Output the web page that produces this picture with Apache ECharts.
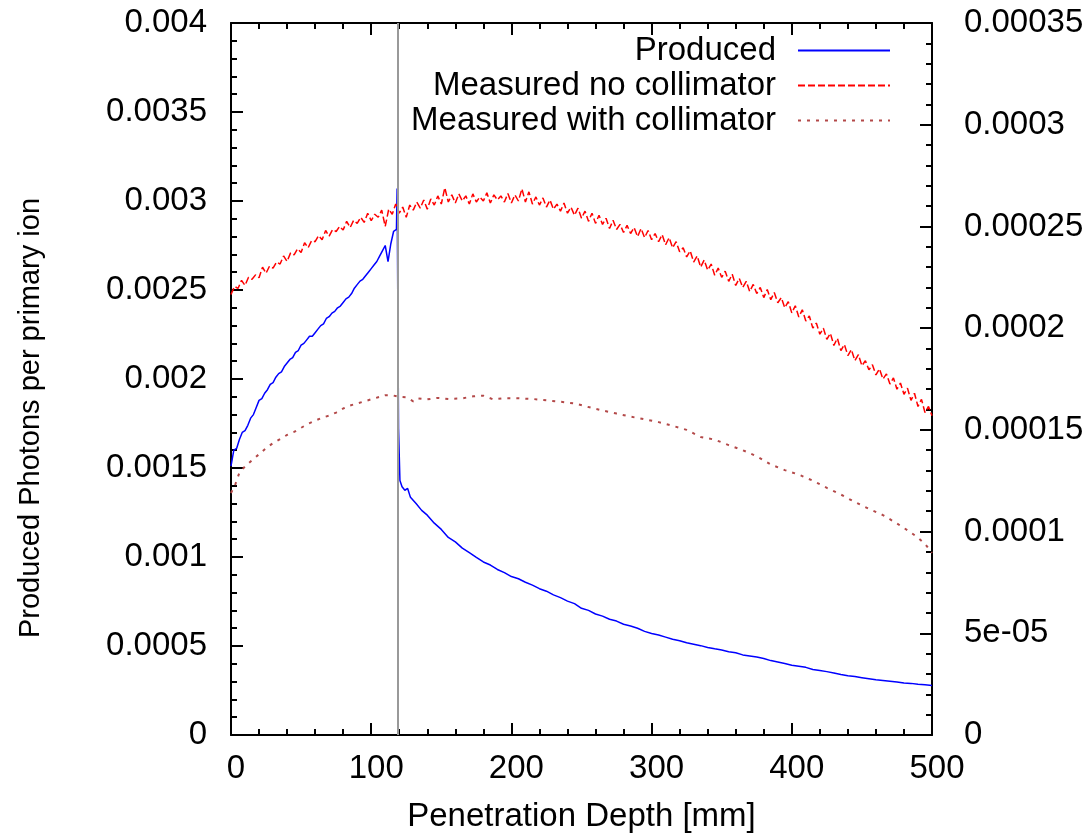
<!DOCTYPE html>
<html>
<head>
<meta charset="utf-8">
<script src="https://cdn.jsdelivr.net/npm/echarts@6/dist/echarts.min.js"></script>
<style>
  html, body { margin: 0; padding: 0; background: #fff; }
  #chart { width: 1089px; height: 840px; }
</style>
</head>
<body>
<div id="chart"></div>
<script>
// Penetration depth [mm] and produced photons per primary ion (left axis)
const producedDepth = [
  0, 2, 4, 6, 8, 10, 12, 14, 16, 18, 20, 22, 24, 26, 28, 30, 32, 34, 36, 38,
  40, 42, 44, 46, 48, 50, 52, 54, 56, 58, 60, 62, 64, 66, 68, 70, 72, 74, 76, 78,
  80, 82, 84, 86, 88, 90, 92, 94, 96, 98, 100, 102, 104, 106, 108, 110, 112, 114, 116, 118,
  118.5, 119.5, 120.5, 122, 124, 126, 128, 132, 136, 140, 145, 150, 155, 160, 165, 170, 175, 180,
  185, 190, 195, 200, 205, 210, 215, 220, 225, 230, 235, 240, 245, 250, 255, 260, 265, 270,
  275, 280, 285, 290, 295, 300, 305, 310, 315, 320, 325, 330, 335, 340, 345, 350, 355, 360,
  365, 370, 375, 380, 385, 390, 395, 400, 405, 410, 415, 420, 425, 430, 435, 440, 445, 450,
  455, 460, 465, 470, 475, 480, 485, 490, 495, 500
];
const producedValues = [
  0.00151, 0.00160, 0.00161, 0.00166, 0.00170, 0.00171, 0.00174, 0.00178, 0.00180, 0.00184,
  0.00188, 0.00189, 0.00192, 0.00194, 0.00197, 0.00198, 0.00201, 0.00203, 0.00204, 0.00207,
  0.00209, 0.00211, 0.00212, 0.00215, 0.00216, 0.00219, 0.00220, 0.00222, 0.00224, 0.00224,
  0.00226, 0.00228, 0.00230, 0.00231, 0.00234, 0.00235, 0.00237, 0.00238, 0.00240, 0.00241,
  0.00243, 0.00245, 0.00246, 0.00248, 0.00251, 0.00253, 0.00255, 0.00256, 0.00258, 0.00260,
  0.00262, 0.00264, 0.00266, 0.00269, 0.00272, 0.00275, 0.00266, 0.00276, 0.00283, 0.00284,
  0.00307, 0.00172, 0.001430, 0.001395, 0.001375, 0.001385, 0.001335, 0.001300, 0.001262, 0.001235,
  0.001190, 0.001155, 0.001110, 0.001085, 0.001050, 0.001025, 0.000998, 0.000972,
  0.000955, 0.000930, 0.000912, 0.000890, 0.000878, 0.000858, 0.000842, 0.000822, 0.000808, 0.000787,
  0.000772, 0.000752, 0.000738, 0.000712, 0.000700, 0.000680, 0.000668, 0.000650,
  0.000640, 0.000622, 0.000612, 0.000600, 0.000582, 0.000570, 0.000562, 0.000550, 0.000538, 0.000530,
  0.000518, 0.000510, 0.000502, 0.000492, 0.000484, 0.000478, 0.000468, 0.000462,
  0.000450, 0.000444, 0.000438, 0.000430, 0.000418, 0.000410, 0.000402, 0.000392, 0.000386, 0.000380,
  0.000368, 0.000362, 0.000356, 0.000348, 0.000340, 0.000333, 0.000328, 0.000322,
  0.000316, 0.000310, 0.000306, 0.000302, 0.000298, 0.000292, 0.000290, 0.000285, 0.000282, 0.000278
];

// Measured without collimator (right axis), one reading every 2.5 mm from 0 to 500 mm
const noCollimatorStep = 2.5;
const noCollimatorValues = [
  2.165e-4, 2.205e-4, 2.195e-4, 2.235e-4, 2.210e-4, 2.250e-4, 2.240e-4, 2.262e-4, 2.248e-4, 2.300e-4,
  2.270e-4, 2.305e-4, 2.295e-4, 2.325e-4, 2.315e-4, 2.355e-4, 2.328e-4, 2.370e-4, 2.360e-4, 2.390e-4,
  2.372e-4, 2.420e-4, 2.395e-4, 2.430e-4, 2.425e-4, 2.455e-4, 2.435e-4, 2.480e-4, 2.452e-4, 2.485e-4,
  2.475e-4, 2.500e-4, 2.482e-4, 2.525e-4, 2.495e-4, 2.530e-4, 2.515e-4, 2.545e-4, 2.520e-4, 2.565e-4,
  2.528e-4, 2.560e-4, 2.545e-4, 2.580e-4, 2.500e-4, 2.585e-4, 2.560e-4, 2.610e-4, 2.565e-4, 2.595e-4,
  2.545e-4, 2.605e-4, 2.580e-4, 2.620e-4, 2.590e-4, 2.630e-4, 2.585e-4, 2.635e-4, 2.605e-4, 2.650e-4,
  2.610e-4, 2.690e-4, 2.620e-4, 2.655e-4, 2.615e-4, 2.660e-4, 2.625e-4, 2.650e-4, 2.610e-4, 2.660e-4,
  2.620e-4, 2.645e-4, 2.625e-4, 2.665e-4, 2.615e-4, 2.655e-4, 2.630e-4, 2.650e-4, 2.620e-4, 2.662e-4,
  2.615e-4, 2.655e-4, 2.625e-4, 2.685e-4, 2.620e-4, 2.670e-4, 2.610e-4, 2.645e-4, 2.605e-4, 2.640e-4,
  2.595e-4, 2.630e-4, 2.585e-4, 2.610e-4, 2.575e-4, 2.615e-4, 2.565e-4, 2.595e-4, 2.555e-4, 2.590e-4,
  2.540e-4, 2.575e-4, 2.525e-4, 2.565e-4, 2.515e-4, 2.555e-4, 2.510e-4, 2.540e-4, 2.490e-4, 2.530e-4,
  2.485e-4, 2.510e-4, 2.470e-4, 2.505e-4, 2.465e-4, 2.495e-4, 2.450e-4, 2.490e-4, 2.445e-4, 2.480e-4,
  2.435e-4, 2.465e-4, 2.425e-4, 2.460e-4, 2.410e-4, 2.445e-4, 2.395e-4, 2.425e-4, 2.375e-4, 2.395e-4,
  2.350e-4, 2.380e-4, 2.325e-4, 2.355e-4, 2.300e-4, 2.335e-4, 2.285e-4, 2.315e-4, 2.260e-4, 2.295e-4,
  2.250e-4, 2.280e-4, 2.230e-4, 2.265e-4, 2.210e-4, 2.245e-4, 2.200e-4, 2.230e-4, 2.180e-4, 2.215e-4,
  2.170e-4, 2.200e-4, 2.150e-4, 2.190e-4, 2.140e-4, 2.175e-4, 2.125e-4, 2.150e-4, 2.100e-4, 2.130e-4,
  2.075e-4, 2.110e-4, 2.055e-4, 2.090e-4, 2.035e-4, 2.060e-4, 2.000e-4, 2.025e-4, 1.970e-4, 2.000e-4,
  1.945e-4, 1.975e-4, 1.915e-4, 1.950e-4, 1.890e-4, 1.920e-4, 1.865e-4, 1.895e-4, 1.840e-4, 1.870e-4,
  1.815e-4, 1.840e-4, 1.795e-4, 1.820e-4, 1.770e-4, 1.800e-4, 1.750e-4, 1.775e-4, 1.725e-4, 1.755e-4,
  1.700e-4, 1.730e-4, 1.675e-4, 1.705e-4, 1.645e-4, 1.680e-4, 1.615e-4, 1.650e-4, 1.585e-4, 1.615e-4,
  1.570e-4
];

// Measured with collimator (right axis)
const withCollimatorDepth = [
  0, 3, 6, 10, 14, 20, 25, 30, 35, 40, 45, 50, 55, 60, 65, 70, 75, 80, 85, 90,
  95, 100, 105, 110, 115, 120, 125, 130, 133, 140, 147, 155, 165, 173, 180, 187, 195, 205, 215, 225,
  235, 245, 255, 265, 275, 285, 295, 305, 315, 325, 335, 345, 355, 365, 375, 385, 395, 405, 415, 425,
  435, 445, 455, 465, 475, 485, 490, 495, 500
];
const withCollimatorValues = [
  1.190e-4, 1.230e-4, 1.290e-4, 1.320e-4, 1.345e-4, 1.380e-4, 1.410e-4, 1.435e-4, 1.455e-4, 1.475e-4,
  1.490e-4, 1.510e-4, 1.530e-4, 1.545e-4, 1.560e-4, 1.570e-4, 1.585e-4, 1.605e-4, 1.620e-4, 1.630e-4,
  1.640e-4, 1.650e-4, 1.660e-4, 1.670e-4, 1.670e-4, 1.662e-4, 1.660e-4, 1.640e-4, 1.655e-4, 1.650e-4,
  1.657e-4, 1.652e-4, 1.655e-4, 1.665e-4, 1.668e-4, 1.650e-4, 1.656e-4, 1.655e-4, 1.652e-4, 1.645e-4,
  1.638e-4, 1.630e-4, 1.612e-4, 1.595e-4, 1.580e-4, 1.565e-4, 1.552e-4, 1.538e-4, 1.520e-4, 1.500e-4,
  1.465e-4, 1.452e-4, 1.425e-4, 1.400e-4, 1.370e-4, 1.330e-4, 1.302e-4, 1.280e-4, 1.250e-4, 1.215e-4,
  1.182e-4, 1.145e-4, 1.112e-4, 1.081e-4, 1.040e-4, 0.995e-4, 0.970e-4, 0.940e-4, 0.895e-4
];

// Depth of the vertical reference line [mm]
const markerDepth = 119;

const zip = (xs, ys) => ys.map((v, i) => [xs[i], v]);
const producedData = zip(producedDepth, producedValues);
const noCollimatorData = noCollimatorValues.map((v, i) => [i * noCollimatorStep, v]);
const withCollimatorData = zip(withCollimatorDepth, withCollimatorValues);

const FONT = "'Liberation Sans', Arial, Helvetica, sans-serif";
const BLACK = '#000';

function fmtTick(v) {
  if (v === 0) return '0';
  const r = +v.toPrecision(6);
  if (Math.abs(r) < 1e-4) {
    return r.toExponential().replace(/e([+-])(\d)$/, 'e$10$2');
  }
  return String(r);
}

const tickCommon = () => ({
  show: true,
  inside: true,
  length: 12,
  lineStyle: { color: BLACK, width: 2 }
});
const minorCommon = (n) => ({
  show: true,
  splitNumber: n,
  length: 6,
  lineStyle: { color: BLACK, width: 2 }
});
const axisLineCommon = () => ({ show: true, onZero: false, lineStyle: { color: BLACK, width: 2 } });
const labelCommon = { color: BLACK, fontFamily: FONT, fontSize: 33 };

const chart = echarts.init(document.getElementById('chart'), null, { renderer: 'canvas' });

chart.setOption({
  animation: false,
  backgroundColor: '#fff',
  textStyle: { fontFamily: FONT },
  grid: { left: 231, right: 157, top: 23, bottom: 105, containLabel: false },
  legend: {
    data: ['Produced', 'Measured no collimator', 'Measured with collimator'],
    orient: 'vertical',
    right: 198,
    top: 34,
    padding: 0,
    align: 'right',
    itemWidth: 92,
    itemHeight: 14,
    itemGap: 2,
    selectedMode: false,
    itemStyle: { opacity: 0 },
    textStyle: { color: BLACK, fontFamily: FONT, fontSize: 33, padding: [0, 17, 0, 0] }
  },
  xAxis: [
    {
      type: 'value',
      position: 'bottom',
      min: 0, max: 500, interval: 100,
      name: 'Penetration Depth [mm]',
      nameLocation: 'middle',
      nameGap: 65,
      nameTextStyle: { color: BLACK, fontFamily: FONT, fontSize: 33 },
      axisLine: axisLineCommon(),
      axisTick: tickCommon(),
      minorTick: minorCommon(5),
      splitLine: { show: false },
      axisLabel: Object.assign({}, labelCommon, { margin: 17, padding: [0, 0, 0, 10], formatter: fmtTick })
    },
    {
      type: 'value',
      position: 'top',
      min: 0, max: 500, interval: 100,
      axisLine: axisLineCommon(),
      axisTick: tickCommon(),
      minorTick: minorCommon(5),
      splitLine: { show: false },
      axisLabel: { show: false }
    }
  ],
  yAxis: [
    {
      type: 'value',
      position: 'left',
      min: 0, max: 0.004, interval: 0.0005,
      axisLine: axisLineCommon(),
      axisTick: tickCommon(),
      minorTick: minorCommon(5),
      splitLine: { show: false },
      axisLabel: Object.assign({}, labelCommon, { margin: 24, formatter: fmtTick })
    },
    {
      type: 'value',
      position: 'right',
      min: 0, max: 0.00035, interval: 0.00005,
      alignTicks: false,
      axisLine: axisLineCommon(),
      axisTick: tickCommon(),
      minorTick: minorCommon(5),
      splitLine: { show: false },
      axisLabel: Object.assign({}, labelCommon, { margin: 32, formatter: fmtTick })
    }
  ],
  graphic: [
    {
      type: 'text',
      x: 31,
      y: 418,
      rotation: Math.PI / 2,
      style: {
        text: 'Produced Photons per primary ion',
        fill: BLACK,
        font: "29px 'Liberation Sans', Arial, sans-serif",
        align: 'center',
        verticalAlign: 'middle'
      }
    }
  ],
  series: [
    {
      name: 'Produced',
      type: 'line',
      xAxisIndex: 0,
      yAxisIndex: 0,
      data: producedData,
      symbol: 'none',
      lineStyle: { color: '#0000ff', width: 1.5 },
      itemStyle: { color: '#0000ff' },
      z: 2
    },
    {
      name: 'Measured no collimator',
      type: 'line',
      xAxisIndex: 0,
      yAxisIndex: 1,
      data: noCollimatorData,
      symbol: 'none',
      lineStyle: { color: '#ff0000', width: 1.5, type: [7, 3] },
      itemStyle: { color: '#ff0000' },
      z: 3
    },
    {
      name: 'Measured with collimator',
      type: 'line',
      xAxisIndex: 0,
      yAxisIndex: 1,
      data: withCollimatorData,
      symbol: 'none',
      lineStyle: { color: '#b34848', width: 2, type: [3, 6] },
      itemStyle: { color: '#b34848' },
      z: 4
    },
    {
      name: 'marker',
      type: 'line',
      xAxisIndex: 0,
      yAxisIndex: 0,
      data: [],
      z: 5,
      markLine: {
        silent: true,
        symbol: ['none', 'none'],
        label: { show: false },
        lineStyle: { color: '#999999', width: 2, type: 'solid' },
        data: [{ xAxis: markerDepth }]
      }
    }
  ]
});
</script>
</body>
</html>
